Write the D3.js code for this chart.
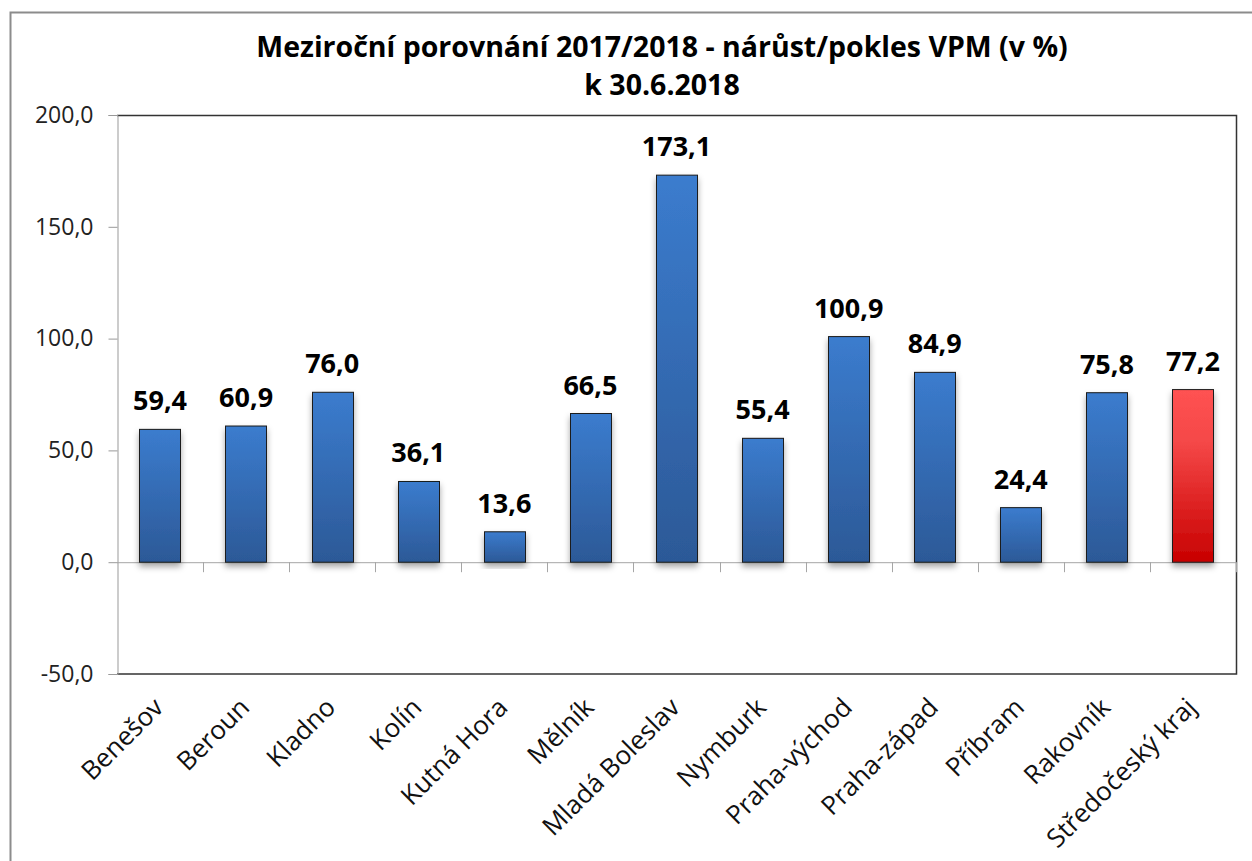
<!DOCTYPE html>
<html>
  <head>
    <meta charset="UTF-8">
    <script src="https://cdn.jsdelivr.net/npm/d3@7"></script>
    <style>
      body { margin: 0; background: #fff; }
      text { font-family: "Open Sans", "Noto Sans", sans-serif; }
    </style>
  </head>
  <body>
    <svg id="chart" width="1252" height="861"></svg>
    <script type="text/javascript">
      // data
      var districts = ['Benešov', 'Beroun', 'Kladno', 'Kolín', 'Kutná Hora', 'Mělník',
        'Mladá Boleslav', 'Nymburk', 'Praha-východ', 'Praha-západ', 'Příbram',
        'Rakovník', 'Středočeský kraj'];
      var growth = [59.4, 60.9, 76.0, 36.1, 13.6, 66.5, 173.1, 55.4, 100.9, 84.9, 24.4, 75.8, 77.2];
      var yTicks = [-50, 0, 50, 100, 150, 200];
      var titleLines = ['Meziroční porovnání 2017/2018 - nárůst/pokles VPM (v %)', 'k 30.6.2018'];

      var plotL = 117, plotR = 1236, plotT = 115, plotB = 674;
      var svg = d3.select('#chart');

      // czech number format: one decimal, comma, plain hyphen for minus
      var fmt = function(v) { return v.toFixed(1).replace('.', ','); };

      var x = d3.scaleBand().domain(districts).range([plotL, plotR]).paddingInner(0.52).paddingOuter(0.26);
      var y = d3.scaleLinear().domain([-50, 200]).range([plotB, plotT]);

      // gradients + shadow
      var defs = svg.append('defs');
      var blue = defs.append('linearGradient').attr('id', 'gBlue').attr('x1', 0).attr('y1', 0).attr('x2', 0).attr('y2', 1);
      blue.append('stop').attr('offset', '0%').attr('stop-color', '#3b7cce');
      blue.append('stop').attr('offset', '100%').attr('stop-color', '#2c5997');
      var red = defs.append('linearGradient').attr('id', 'gRed').attr('x1', 0).attr('y1', 0).attr('x2', 0).attr('y2', 1);
      red.append('stop').attr('offset', '0%').attr('stop-color', '#ff5252');
      red.append('stop').attr('offset', '30%').attr('stop-color', '#f54848');
      red.append('stop').attr('offset', '100%').attr('stop-color', '#c80000');
      var sh = defs.append('filter').attr('id', 'shadow').attr('x', '-30%').attr('y', '-10%').attr('width', '160%').attr('height', '130%');
      sh.append('feDropShadow').attr('dx', 0).attr('dy', 4).attr('stdDeviation', 3)
        .attr('flood-color', '#000').attr('flood-opacity', 0.35);

      // outer frame
      svg.append('rect').attr('x', 10.5).attr('y', 12.5).attr('width', 1260).attr('height', 900)
        .attr('fill', 'none').attr('stroke', '#8c8c8c').attr('stroke-width', 2);

      // title
      svg.append('g').selectAll('text').data(titleLines).enter().append('text')
        .attr('x', 662).attr('y', function(d, i) { return 57 + i * 38; })
        .attr('text-anchor', 'middle').attr('font-weight', 'bold').attr('font-size', 28.5)
        .attr('fill', '#000').text(function(d) { return d; });

      // plot frame (top, right, bottom)
      svg.append('path')
        .attr('d', 'M' + plotL + ',' + (plotT + 0.5) + 'H' + (plotR + 0.5) + 'V' + plotB + 'H' + plotL)
        .attr('fill', 'none').attr('stroke', '#333').attr('stroke-width', 1.5);

      // y axis
      var yAxis = svg.append('g').attr('transform', 'translate(' + (plotL + 0.5) + ',0)')
        .call(d3.axisLeft(y).tickValues(yTicks).tickSize(9).tickPadding(15).tickFormat(fmt));
      yAxis.select('.domain').attr('stroke', '#999');
      yAxis.selectAll('.tick line').attr('stroke', '#999');
      yAxis.selectAll('text').attr('font-size', 23).attr('fill', '#222')
        .attr('font-family', '"Open Sans", sans-serif');

      // zero line with category ticks
      svg.append('line').attr('x1', plotL).attr('x2', plotR).attr('y1', y(0) + 0.5).attr('y2', y(0) + 0.5)
        .attr('stroke', '#a6a6a6');
      svg.append('g').selectAll('line').data(districts).enter().append('line')
        .attr('x1', function(d, i) { return Math.round(plotL + x.step() * (i + 1)) + 0.5; })
        .attr('x2', function(d, i) { return Math.round(plotL + x.step() * (i + 1)) + 0.5; })
        .attr('y1', y(0)).attr('y2', y(0) + 10).attr('stroke', '#a6a6a6');

      // bars
      svg.append('g').selectAll('rect').data(growth).enter().append('rect')
        .attr('x', function(d, i) { return Math.round(x(districts[i])) + 0.5; })
        .attr('width', Math.round(x.bandwidth()))
        .attr('y', function(d) { return y(d); })
        .attr('height', function(d) { return y(0) - y(d); })
        .attr('fill', function(d, i) { return i === districts.length - 1 ? 'url(#gRed)' : 'url(#gBlue)'; })
        .attr('stroke', '#1a1a1a').attr('stroke-width', 1)
        .attr('filter', 'url(#shadow)');

      // value labels
      svg.append('g').selectAll('text').data(growth).enter().append('text')
        .attr('x', function(d, i) { return x(districts[i]) + x.bandwidth() / 2; })
        .attr('y', function(d) { return y(d) - 19; })
        .attr('text-anchor', 'middle').attr('font-weight', 'bold').attr('font-size', 27)
        .attr('fill', '#000').text(fmt);

      // category labels
      svg.append('g').selectAll('text').data(districts).enter().append('text')
        .attr('transform', function(d) {
          var cx = x(d) + x.bandwidth() / 2 + 5;
          return 'translate(' + cx + ',' + 709 + ') rotate(-45)';
        })
        .attr('text-anchor', 'end').attr('font-size', 26).attr('fill', '#111')
        .text(function(d) { return d; });
    </script>
  </body>
</html>
